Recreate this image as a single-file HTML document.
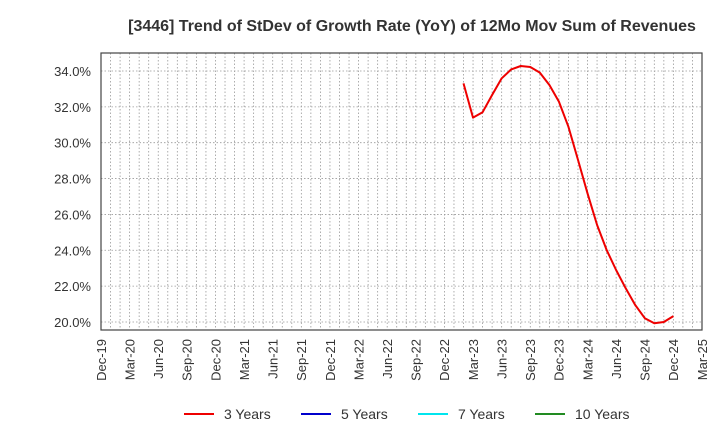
<!DOCTYPE html>
<html><head><meta charset="utf-8"><style>
body{margin:0;background:#fff;font-family:"Liberation Sans",Arial,sans-serif;}
svg text{font-family:"Liberation Sans",Arial,sans-serif;}
</style></head><body>
<svg id="c" width="720" height="440" xmlns="http://www.w3.org/2000/svg">
<text x="412" y="31" text-anchor="middle" font-size="16" font-weight="bold" fill="#333">[3446]  Trend of StDev of Growth Rate (YoY) of 12Mo Mov Sum of Revenues</text>
<g id="grid"></g>
<g id="yax"></g>
<g id="xax"></g>
<g id="series"></g>
<rect x="101" y="53" width="601" height="277" fill="none" stroke="#444" stroke-width="1.2"/>
<g>
<g><line x1="184" y1="414" x2="214" y2="414" stroke="#e00" stroke-width="2"/><text x="224" y="419" font-size="14" fill="#333">3 Years</text></g>
<g><line x1="301" y1="414" x2="331" y2="414" stroke="#0000cc" stroke-width="2"/><text x="341" y="419" font-size="14" fill="#333">5 Years</text></g>
<g><line x1="418" y1="414" x2="448" y2="414" stroke="#00e5ee" stroke-width="2"/><text x="458" y="419" font-size="14" fill="#333">7 Years</text></g>
<g><line x1="535" y1="414" x2="565" y2="414" stroke="#228b22" stroke-width="2"/><text x="575" y="419" font-size="14" fill="#333">10 Years</text></g>
</g>
</svg>
<script>
const xTickLabels=["Dec-19","Mar-20","Jun-20","Sep-20","Dec-20","Mar-21","Jun-21","Sep-21","Dec-21","Mar-22","Jun-22","Sep-22","Dec-22","Mar-23","Jun-23","Sep-23","Dec-23","Mar-24","Jun-24","Sep-24","Dec-24","Mar-25"];
const yTicks=[20,22,24,26,28,30,32,34];
const startMonth=38; // Feb-23, months since Dec-19
const series3=[33.31,31.40,31.70,32.66,33.59,34.09,34.28,34.22,33.91,33.22,32.29,30.89,29.04,27.18,25.41,24.02,22.90,21.88,20.95,20.21,19.93,20.00,20.33];
const NS="http://www.w3.org/2000/svg";
const L=101,R=702,T=53,B=330,M=63;
const xs=m=>L+(R-L)*m/M;
const ys=v=>322-(v-20)*17.93;
function mk(t,a,p){const e=document.createElementNS(NS,t);for(const k in a)e.setAttribute(k,a[k]);p.appendChild(e);return e;}
const g=document.getElementById('grid');
for(let m=1;m<M;m++){const l=mk('line',{x1:xs(m),x2:xs(m),y1:T,y2:B,stroke:'#999','stroke-width':0.8,'stroke-dasharray':'1.5,2'},g);

}
const ya=document.getElementById('yax');
yTicks.forEach(v=>{const l=mk('line',{x1:L,x2:R,y1:ys(v),y2:ys(v),stroke:'#999','stroke-width':0.8,'stroke-dasharray':'1.5,2'},g);


const t=mk('text',{x:91,y:ys(v)+5,'text-anchor':'end','font-size':13,fill:'#333'},ya);t.textContent=v.toFixed(1)+'%';

});
const xa=document.getElementById('xax');
xTickLabels.forEach((s,i)=>{const x=xs(i*3);const t=mk('text',{x:0,y:0,'text-anchor':'end','font-size':13,fill:'#333',transform:`translate(${x+4.8},${B+9}) rotate(-90)`},xa);t.textContent=s;

});
const pts=series3.map((v,i)=>xs(startMonth+i).toFixed(1)+','+ys(v).toFixed(1)).join(' ');
const pl=mk('polyline',{points:pts,fill:'none',stroke:'#e00','stroke-width':2,'stroke-linejoin':'round'},document.getElementById('series'));


</script>
</body></html>
